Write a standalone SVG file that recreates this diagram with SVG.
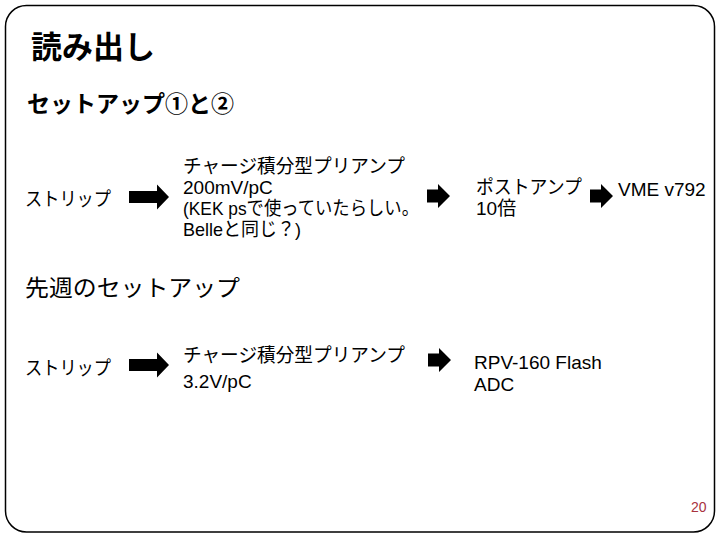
<svg xmlns="http://www.w3.org/2000/svg" xmlns:xlink="http://www.w3.org/1999/xlink" width="720" height="540" viewBox="0 0 720 540">
  <style>
    text { font-family: "Liberation Sans", "Noto Sans CJK JP", sans-serif; fill: #000; }
    .title { font-size: 31px; font-weight: bold; }
    .sub { font-size: 23px; font-weight: bold; }
    .sec { font-size: 23px; }
    .t { font-size: 19px; }
    .pg { font-size: 14px; fill: #A8323E; }
    .frame { fill: #fff; stroke: #000; stroke-width: 1.5; }
    .arr { fill: #000; }
  </style>
  <defs>
    <path id="bigArrow" d="M0,-6 L28,-6 L28,-12.5 L40,0 L28,12.5 L28,6 L0,6 Z"/>
    <path id="smallArrow" d="M0,-6.5 L11,-6.5 L11,-12 L23,0 L11,12 L11,6.5 L0,6.5 Z"/>
  </defs>
  <rect class="frame" x="5.5" y="5.5" width="709" height="526.5" rx="21" ry="21"/>

  <text class="title" x="31" y="58">読み出し</text>
  <text class="sub" x="27" y="112">セットアップ①と②</text>

  <g id="strip1"><text class="t" x="25" y="206" textLength="86" lengthAdjust="spacingAndGlyphs">ストリップ</text></g>
  <g id="preamp1">
    <text class="t" x="183" y="173" textLength="222" lengthAdjust="spacingAndGlyphs">チャージ積分型プリアンプ</text>
    <text class="t" x="183" y="194">200mV/pC</text>
    <text class="t" x="183" y="215" textLength="236" lengthAdjust="spacingAndGlyphs">(KEK psで使っていたらしい。</text>
    <text class="t" x="183" y="236" textLength="118" lengthAdjust="spacingAndGlyphs">Belleと同じ？)</text>
  </g>
  <g id="postamp1">
    <text class="t" x="476" y="194" textLength="106" lengthAdjust="spacingAndGlyphs">ポストアンプ</text>
    <text class="t" x="476" y="215">10倍</text>
  </g>
  <g id="vme1"><text class="t" x="618" y="196">VME v792</text></g>

  <text class="sec" x="25" y="296" textLength="215" lengthAdjust="spacingAndGlyphs">先週のセットアップ</text>

  <g id="strip2"><text class="t" x="25" y="375" textLength="86" lengthAdjust="spacingAndGlyphs">ストリップ</text></g>
  <g id="preamp2">
    <text class="t" x="183" y="362" textLength="222" lengthAdjust="spacingAndGlyphs">チャージ積分型プリアンプ</text>
    <text class="t" x="183" y="388">3.2V/pC</text>
  </g>
  <g id="adc2">
    <text class="t" x="474" y="369">RPV-160 Flash</text>
    <text class="t" x="474" y="391">ADC</text>
  </g>

  <g id="connectors" class="arr">
    <use xlink:href="#bigArrow" href="#bigArrow" x="129" y="197"/>
    <use xlink:href="#smallArrow" href="#smallArrow" x="427" y="196"/>
    <use xlink:href="#smallArrow" href="#smallArrow" x="590" y="196"/>
    <use xlink:href="#bigArrow" href="#bigArrow" x="129" y="365"/>
    <use xlink:href="#smallArrow" href="#smallArrow" x="428" y="360"/>
  </g>

  <text class="pg" x="691" y="512">20</text>
</svg>
